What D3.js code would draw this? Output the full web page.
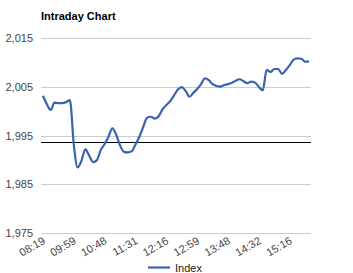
<!DOCTYPE html>
<html>
<head>
<meta charset="utf-8">
<script src="https://cdn.jsdelivr.net/npm/d3@7"></script>
<style>
  body { margin: 0; background: #fff; }
  svg text { font-family: Arial, "Liberation Sans", sans-serif; }
</style>
</head>
<body>
<div id="chart"></div>
<script>
  // index values, one per intraday sample
  var values = [
    2003.2, 2001.5, 2000.3, 2001.8, 2001.7, 2001.7, 2001.9, 2002.3, 1993.2, 1988.5,
    1989.9, 1992.2, 1990.9, 1989.6, 1990.0, 1992.1, 1993.3, 1994.8, 1996.5, 1995.2,
    1993.0, 1991.7, 1991.6, 1991.8, 1993.2, 1994.8, 1996.8, 1998.7, 1998.9, 1998.5,
    1999.0, 2000.4, 2001.3, 2002.1, 2003.3, 2004.5, 2005.0, 2004.2, 2003.0, 2003.8,
    2004.6, 2005.6, 2006.8, 2006.4, 2005.6, 2005.2, 2005.1, 2005.4, 2005.6, 2005.9,
    2006.3, 2006.6, 2006.2, 2005.8, 2006.1, 2005.9, 2005.0, 2004.3, 2008.5, 2008.1,
    2008.7, 2008.7, 2007.7, 2008.5, 2009.5, 2010.6, 2010.9, 2010.8, 2010.2, 2010.2
  ];
  // shown time labels, one every 8 samples
  var tickLabels = ['08:19', '09:59', '10:48', '11:31', '12:16', '12:59', '13:48', '14:32', '15:16'];
  var yTicks = [1975, 1985, 1995, 2005, 2015];
  var prevClose = [1993.65];
  var seriesName = ['Index'];

  (function() {
    var width = 353, height = 273;
    var tickEvery = 8;
    var plotLeft = 41, plotRight = 311, plotTop = 38.3, plotBottom = 233.2;
    var color = '#3a63ad';

    var svg = d3.select('#chart')
      .append('svg')
      .attr('width', width)
      .attr('height', height);

    var x = d3.scalePoint()
      .domain(d3.range(values.length))
      .range([plotLeft, plotRight])
      .padding(0.5);

    var y = d3.scaleLinear()
      .domain([1975, 2015])
      .range([plotBottom, plotTop]);

    // title
    svg.append('text')
      .attr('x', 41)
      .attr('y', 20)
      .style('font-size', '11px')
      .style('font-weight', 'bold')
      .attr('fill', '#000')
      .text('Intraday Chart');

    // gridlines
    svg.selectAll('.grid')
      .data(yTicks)
      .enter()
      .append('line')
      .attr('class', 'grid')
      .attr('x1', plotLeft)
      .attr('x2', plotRight)
      .attr('y1', function(d) { return Math.round(y(d)) + 0.5; })
      .attr('y2', function(d) { return Math.round(y(d)) + 0.5; })
      .attr('stroke', '#cccccc')
      .attr('stroke-width', 1);

    // y labels
    var fmt = d3.format(',');
    svg.selectAll('.ylab')
      .data(yTicks)
      .enter()
      .append('text')
      .attr('class', 'ylab')
      .attr('x', 33)
      .attr('y', function(d) { return y(d) + 4; })
      .attr('text-anchor', 'end')
      .style('font-size', '11px')
      .attr('fill', '#444')
      .text(function(d) { return fmt(d); });

    // previous close line
    svg.selectAll('.ref')
      .data(prevClose)
      .enter()
      .append('line')
      .attr('class', 'ref')
      .attr('x1', plotLeft)
      .attr('x2', plotRight)
      .attr('y1', function(d) { return Math.round(y(d)) + 0.5; })
      .attr('y2', function(d) { return Math.round(y(d)) + 0.5; })
      .attr('stroke', '#000')
      .attr('stroke-width', 1);

    // series line
    var line = d3.line()
      .x(function(d, i) { return x(i); })
      .y(function(d) { return y(d); })
      .curve(d3.curveMonotoneX);

    svg.append('path')
      .datum(values)
      .attr('d', line)
      .attr('fill', 'none')
      .attr('stroke', color)
      .attr('stroke-width', 2.2)
      .attr('stroke-linejoin', 'round');

    // x labels
    svg.selectAll('.xlab')
      .data(tickLabels)
      .enter()
      .append('text')
      .attr('class', 'xlab')
      .attr('text-anchor', 'end')
      .attr('transform', function(d, i) {
        return 'translate(' + (x(i * tickEvery) + 3) + ',243) rotate(-30)';
      })
      .style('font-size', '11px')
      .attr('fill', '#444')
      .text(function(d) { return d; });

    // legend
    var legend = svg.append('g')
      .attr('transform', 'translate(148,267.5)');
    legend.append('line')
      .attr('x1', 0)
      .attr('x2', 22)
      .attr('stroke', color)
      .attr('stroke-width', 2.2);
    legend.append('text')
      .attr('x', 27)
      .attr('y', 4)
      .style('font-size', '11px')
      .attr('fill', '#222')
      .text(seriesName[0]);
  })();
</script>
</body>
</html>
